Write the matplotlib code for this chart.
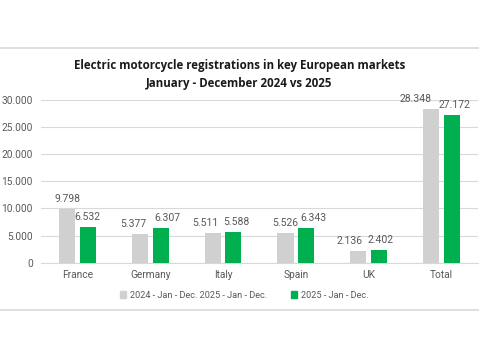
"""Electric motorcycle registrations, key European markets, 2024 vs 2025."""

import matplotlib
matplotlib.use("Agg")
import matplotlib.pyplot as plt
from matplotlib.lines import Line2D
from matplotlib.patches import Patch
from matplotlib.ticker import FuncFormatter

countries = ["France", "Germany", "Italy", "Spain", "UK", "Total"]
values_2024 = [9798, 5377, 5511, 5526, 2136, 28348]
values_2025 = [6532, 6307, 5588, 6343, 2402, 27172]
legend_labels = ["2024 - Jan - Dec. 2025 - Jan - Dec.", "2025 - Jan - Dec."]

# sideways nudges (px) of the data labels, as placed in the original
nudge_2024 = [0, -7, -7, 0, -9, -16]
nudge_2025 = [0, 7, 3, 7, 2, 3]

GRAY = "#D0D0D0"
GREEN = "#00B050"
TEXT = "#595959"
GRID = "#D9D9D9"


def dotted(v):
    return f"{int(v):,}".replace(",", ".")


fig = plt.figure(figsize=(4.79, 3.59), dpi=100)
ax = fig.add_axes([0.0856, 0.268, 0.912, 0.4546])

x = range(len(countries))
w = 0.22
off = 0.142
b1 = ax.bar([i - off for i in x], values_2024, width=w, color=GRAY, zorder=3)
b2 = ax.bar([i + off for i in x], values_2025, width=w, color=GREEN, zorder=3)

for bars, nudges in ((b1, nudge_2024), (b2, nudge_2025)):
    for rect, dx in zip(bars, nudges):
        h = rect.get_height()
        ax.annotate(dotted(h), (rect.get_x() + rect.get_width() / 2, h),
                    xytext=(dx * 0.72, 7.2), textcoords="offset points",
                    ha="center", va="center", fontsize=7.5, color=TEXT,
                    family="Roboto")

ax.set_xlim(-0.5, len(countries) - 0.5)
ax.set_ylim(0, 30000)
ax.set_yticks(range(0, 30001, 5000))
ax.yaxis.set_major_formatter(FuncFormatter(lambda v, p: dotted(v)))
ax.set_xticks(list(x))
ax.set_xticklabels(countries)
ax.tick_params(axis="both", length=0, colors=TEXT, labelsize=7.3)
ax.tick_params(axis="y", pad=6)
ax.tick_params(axis="x", pad=5)
for lab in ax.get_xticklabels() + ax.get_yticklabels():
    lab.set_family("Roboto")

ax.grid(axis="y", color=GRID, linewidth=0.8, zorder=0)
for s in ("top", "right", "left"):
    ax.spines[s].set_visible(False)
ax.spines["bottom"].set_color(GRID)
ax.spines["bottom"].set_linewidth(0.8)

fig.text(0.5, 1 - 66 / 359, "Electric motorcycle registrations in key European markets",
         ha="center", va="center", fontsize=8.3, fontweight="bold", family="Open Sans",
         color="#1a1a1a")
fig.text(0.5, 1 - 83 / 359, "January - December 2024 vs 2025",
         ha="center", va="center", fontsize=8.3, fontweight="bold", family="Open Sans",
         color="#1a1a1a")

handles = [Patch(color=GRAY), Patch(color=GREEN)]
fig.legend(handles, legend_labels, loc="center", bbox_to_anchor=(0.51, 1 - 295 / 359),
           ncol=2, frameon=False, handlelength=0.7, handleheight=0.7,
           handletextpad=0.4, columnspacing=2.6, labelcolor=TEXT,
           prop={"family": "Roboto", "size": 6.6})

for yy in (48, 310):
    fig.add_artist(Line2D([0, 1], [1 - yy / 359] * 2, color=GRID, linewidth=1.2,
                          transform=fig.transFigure))

fig.savefig("out.png", dpi=100)
plt.close(fig)
